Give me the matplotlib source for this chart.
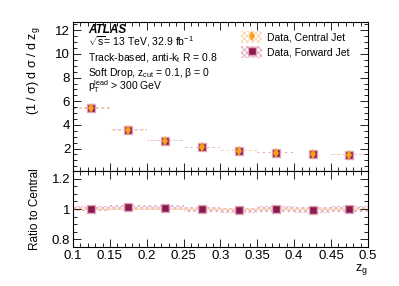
import numpy as np
import matplotlib.pyplot as plt
from matplotlib.patches import Patch
from matplotlib.lines import Line2D
from matplotlib.ticker import MultipleLocator

plt.rcParams['font.family'] = ['Liberation Sans', 'DejaVu Sans']
plt.rcParams['mathtext.fontset'] = 'custom'
plt.rcParams['mathtext.rm'] = 'Liberation Sans'
plt.rcParams['mathtext.it'] = 'Liberation Sans'
plt.rcParams['hatch.linewidth'] = 0.6

# bin centres of z_g
zg = [0.125, 0.175, 0.225, 0.275, 0.325, 0.375, 0.425, 0.475]
bin_width = 0.05

# normalised cross section
central = [5.45, 3.53, 2.62, 2.11, 1.83, 1.64, 1.55, 1.49]
ratio_forward = [1.002, 1.013, 1.009, 0.998, 0.993, 1.0, 0.993, 1.002]
forward = [c * r for c, r in zip(central, ratio_forward)]

# relative uncertainties
central_relerr = [0.008, 0.008, 0.008, 0.008, 0.008, 0.008, 0.008, 0.008]
forward_relerr = [0.016, 0.016, 0.015, 0.016, 0.017, 0.017, 0.018, 0.018]

c_orange = '#f9a01b'
c_orange_band = '#fbd3a0'
c_forward = '#8c1a52'
c_forward_band = '#e0a5b8'

fig = plt.figure(figsize=(3.99, 2.86), dpi=100)
ax = fig.add_axes([0.183, 0.402, 0.739, 0.521])
axr = fig.add_axes([0.183, 0.136, 0.739, 0.266], sharex=ax)

zg_a = np.array(zg)
cen = np.array(central)
fwd = np.array(forward)

# main panel: hatched error boxes
ax.bar(zg_a, 2 * fwd * np.array(forward_relerr), bottom=fwd * (1 - np.array(forward_relerr)),
       width=bin_width, fill=False, hatch='xxxxxx', edgecolor=c_forward_band, linewidth=0)
ax.bar(zg_a, 2 * cen * np.array(central_relerr), bottom=cen * (1 - np.array(central_relerr)),
       width=bin_width, fill=False, hatch='xxxxxx', edgecolor=c_orange_band, linewidth=0)
ax.plot(zg_a, fwd, 's', color=c_forward, markersize=6, markeredgecolor=c_forward_band,
        markeredgewidth=1.0, linestyle='none')
ax.plot(zg_a, cen, 'd', color=c_orange, markersize=5, markeredgewidth=0, linestyle='none')

# ratio panel
r_fwd = np.array(ratio_forward)
axr.bar(zg_a, 2 * np.array(forward_relerr), bottom=r_fwd - np.array(forward_relerr),
        width=bin_width, fill=False, hatch='xxxxxx', edgecolor=c_forward_band, linewidth=0)
axr.bar(zg_a, 2 * np.array(central_relerr), bottom=1 - np.array(central_relerr),
        width=bin_width, color=c_orange_band, alpha=0.5, linewidth=0)
axr.plot(zg_a, r_fwd, 's', color=c_forward, markersize=6, markeredgecolor=c_forward_band,
         markeredgewidth=1.0, linestyle='none')

ax.set_xlim(0.1, 0.5)
ax.set_ylim(0.1, 12.7)
axr.set_ylim(0.75, 1.25)

for a in (ax, axr):
    a.tick_params(which='both', direction='in', top=True, right=True, labelsize=9.5, pad=2)
    a.tick_params(which='major', length=5.5, width=0.6)
    a.tick_params(which='minor', length=3, width=0.6)
    a.xaxis.set_major_locator(MultipleLocator(0.05))
    a.xaxis.set_minor_locator(MultipleLocator(0.01))
    for s in a.spines.values():
        s.set_linewidth(0.8)

ax.yaxis.set_major_locator(MultipleLocator(2))
ax.yaxis.set_minor_locator(MultipleLocator(0.5))
axr.yaxis.set_major_locator(MultipleLocator(0.2))
axr.yaxis.set_minor_locator(MultipleLocator(0.05))
axr.set_yticks([0.8, 1.0, 1.2])
axr.set_yticklabels(['0.8', '1', '1.2'])
ax.set_yticks([2, 4, 6, 8, 10, 12])
plt.setp(ax.get_xticklabels(), visible=False)
axr.set_xticks([0.1, 0.15, 0.2, 0.25, 0.3, 0.35, 0.4, 0.45, 0.5])
axr.set_xticklabels(['0.1', '0.15', '0.2', '0.25', '0.3', '0.35', '0.4', '0.45', '0.5'])

ax.set_ylabel(r'(1 / $\sigma$) d $\sigma$ / d z$_\mathregular{g}$', fontsize=9)
ax.yaxis.set_label_coords(-0.105, 0.97)
ax.yaxis.label.set_horizontalalignment('right')
axr.set_ylabel('Ratio to Central', fontsize=8.5)
axr.yaxis.set_label_coords(-0.11, 0.5)
axr.set_xlabel(r'z$_\mathregular{g}$', fontsize=9, labelpad=0)
axr.xaxis.set_label_coords(1.0, -0.2)
axr.xaxis.label.set_horizontalalignment('right')

# annotations
tx = 0.05
ax.text(tx, 0.946, 'ATLAS', transform=ax.transAxes, fontsize=8.5, fontweight='bold',
        style='italic', va='center')
lines = [r'$\sqrt{\mathregular{s}}$= 13 TeV, 32.9 fb$^{-1}$',
         r'Track-based, anti-k$_\mathregular{t}$ R = 0.8',
         r'Soft Drop, z$_\mathregular{cut}$ = 0.1, $\beta$ = 0',
         r'p$_\mathregular{T}^\mathregular{lead}$ > 300 GeV']
ypos = [0.866, 0.758, 0.658, 0.564]
for t, yy in zip(lines, ypos):
    ax.text(tx, yy, t, transform=ax.transAxes, fontsize=7.5, va='center')

h_c = (Patch(facecolor='none', hatch='xxxxxx', edgecolor=c_orange_band, linewidth=0),
       Line2D([], [], marker='d', color=c_orange, markersize=5, linestyle='none', markeredgewidth=0))
h_f = (Patch(facecolor='none', hatch='xxxxxx', edgecolor=c_forward_band, linewidth=0),
       Line2D([], [], marker='s', color=c_forward, markersize=6, linestyle='none',
              markeredgecolor=c_forward_band, markeredgewidth=1.0))
ax.legend([h_c, h_f], ['Data, Central Jet', 'Data, Forward Jet'], loc='upper right',
          bbox_to_anchor=(0.97, 1.0), frameon=False, fontsize=7.5, handlelength=2.0,
          handleheight=1.3, handletextpad=0.5, labelspacing=0.35)

fig.savefig('out.png', dpi=100)
